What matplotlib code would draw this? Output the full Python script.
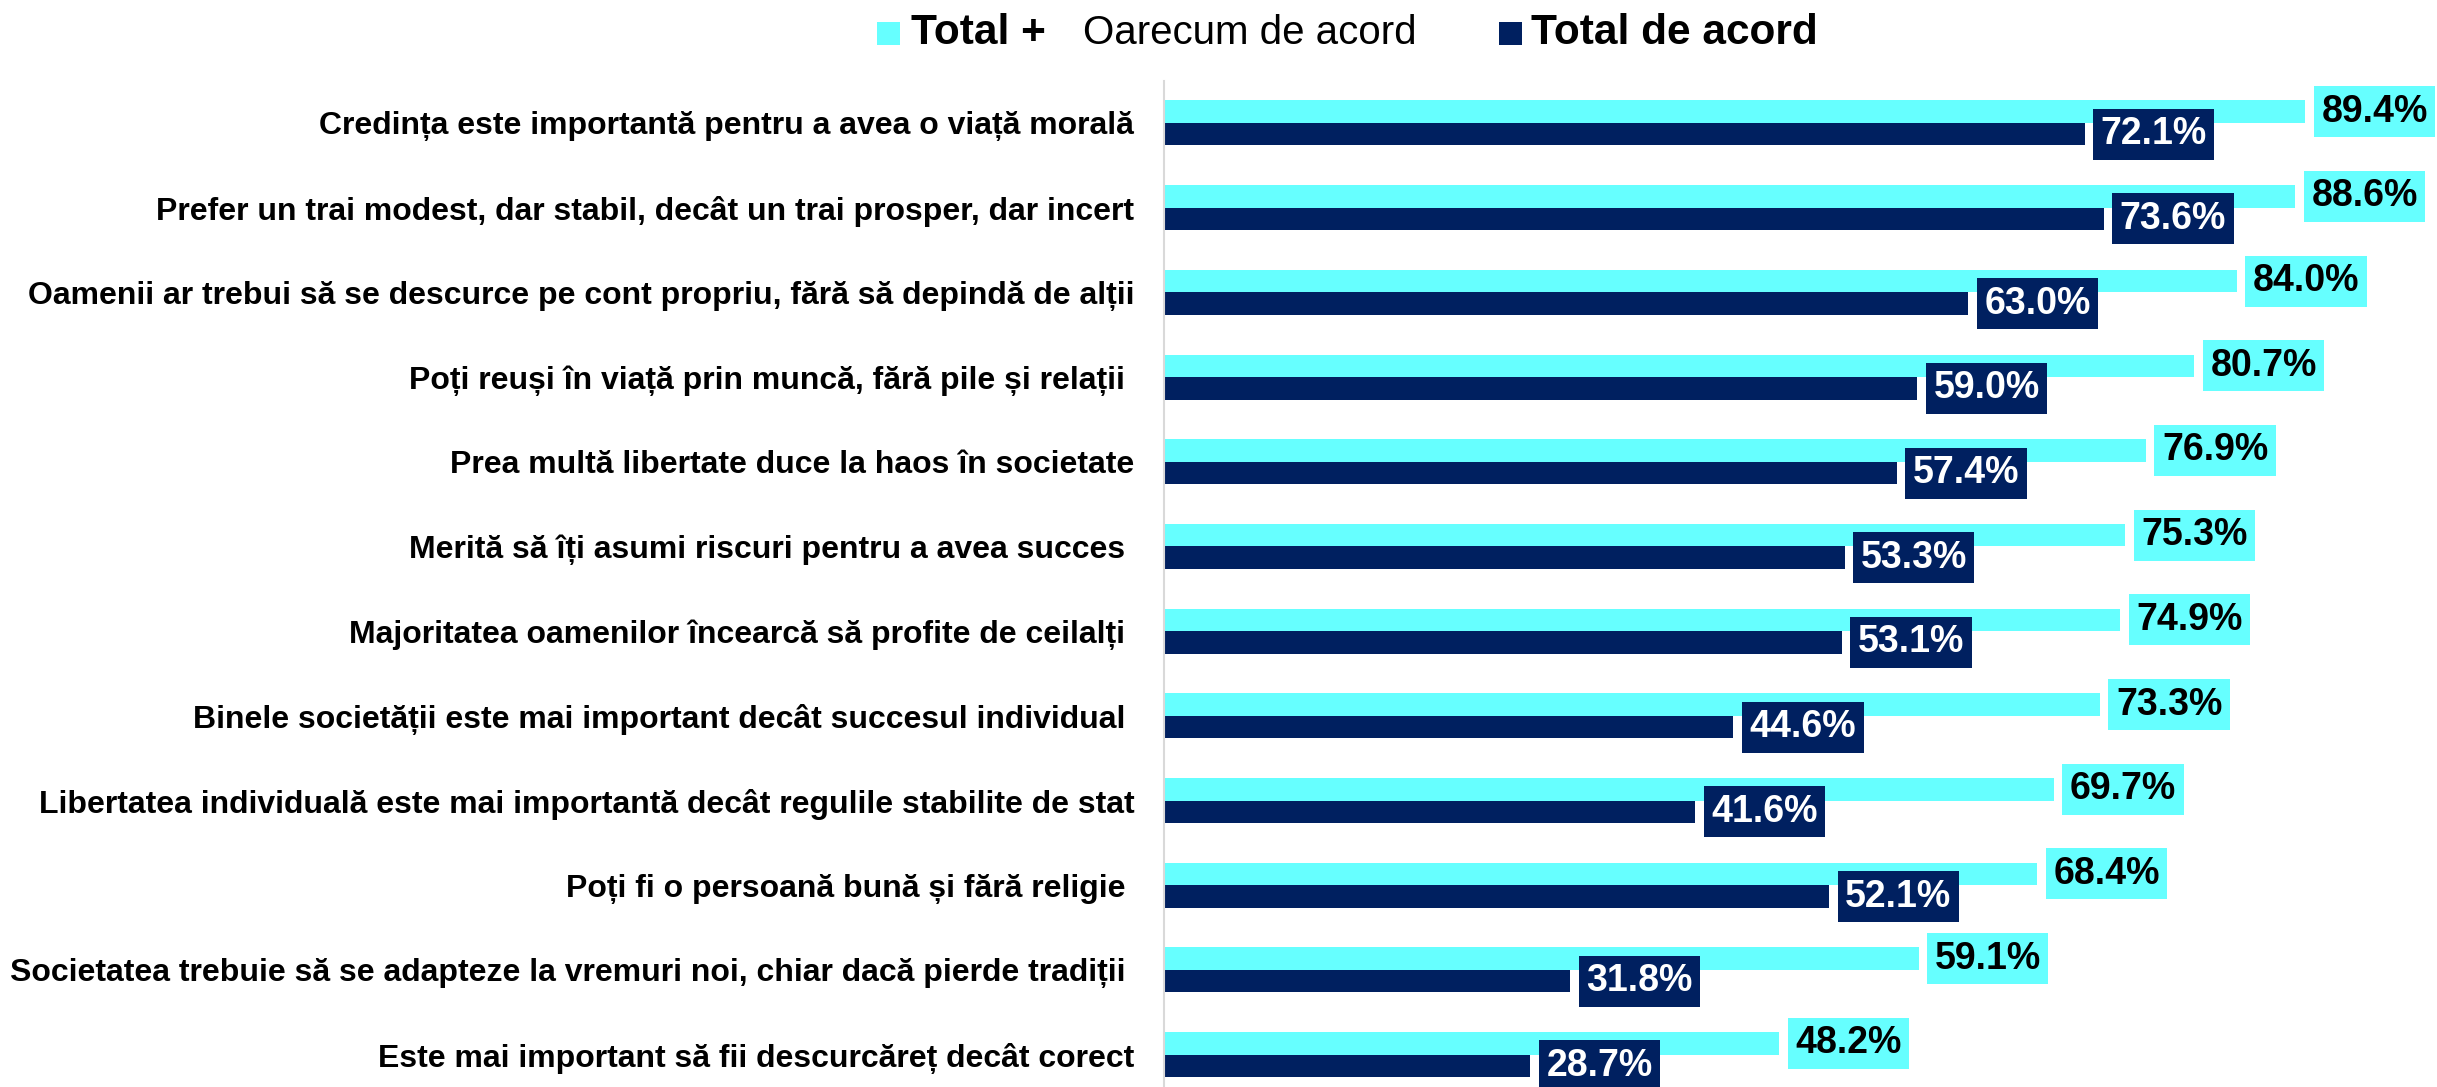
import matplotlib
matplotlib.use("Agg")
import matplotlib.pyplot as plt
from matplotlib import font_manager
from matplotlib.patches import Rectangle

categories = [
    "Credința este importantă pentru a avea o viață morală",
    "Prefer un trai modest, dar stabil, decât un trai prosper, dar incert",
    "Oamenii ar trebui să se descurce pe cont propriu, fără să depindă de alții",
    "Poți reuși în viață prin muncă, fără pile și relații ",
    "Prea multă libertate duce la haos în societate",
    "Merită să îți asumi riscuri pentru a avea succes ",
    "Majoritatea oamenilor încearcă să profite de ceilalți ",
    "Binele societății este mai important decât succesul individual ",
    "Libertatea individuală este mai importantă decât regulile stabilite de stat",
    "Poți fi o persoană bună și fără religie ",
    "Societatea trebuie să se adapteze la vremuri noi, chiar dacă pierde tradiții ",
    "Este mai important să fii descurcăreț decât corect",
]
total_plus = [89.4, 88.6, 84.0, 80.7, 76.9, 75.3, 74.9, 73.3, 69.7, 68.4, 59.1, 48.2]
total_acord = [72.1, 73.6, 63.0, 59.0, 57.4, 53.3, 53.1, 44.6, 41.6, 52.1, 31.8, 28.7]
legend_labels = ["Total + ", "Oarecum de acord", "Total de acord"]

CYAN = "#66FFFF"
NAVY = "#002060"

plt.rcParams['font.family'] = ['Liberation Sans', 'DejaVu Sans']
names = {f.name for f in font_manager.fontManager.ttflist}
narrow = 'Liberation Sans Narrow' if 'Liberation Sans Narrow' in names else 'Liberation Sans'

W, H = 2437, 1087
fig = plt.figure(figsize=(W / 100, H / 100), dpi=100)
ax = fig.add_axes([1164 / W, -10 / H, 1 - 1164 / W, 1016.4 / H])

n = len(categories)
ys = list(range(n))
bh = 0.2657
cy = [y - bh / 2 for y in ys]
dy = [y + bh / 2 for y in ys]
ax.barh(cy, total_plus, height=bh, color=CYAN, zorder=2)
ax.barh(dy, total_acord, height=bh, color=NAVY, zorder=2)

ax.set_xlim(0, 99.7)
ax.set_ylim(n - 0.5, -0.5)
ax.set_yticks(ys)
ax.set_yticklabels(categories, fontsize=23, fontweight='bold')
ax.tick_params(axis='y', length=0, pad=21.5)
ax.set_xticks([])
for s in ['top', 'right', 'bottom']:
    ax.spines[s].set_visible(False)
ax.spines['left'].set_color('#d9d9d9')
ax.spines['left'].set_linewidth(1.5)

for y, v in zip(cy, total_plus):
    ax.annotate(f"{v:.1f}%", xy=(v, y), xytext=(16, 0), textcoords='offset pixels',
                ha='left', va='center', fontsize=27, fontweight='bold', color='black',
                bbox=dict(boxstyle='square,pad=0.2', fc=CYAN, ec='none'), zorder=5,
                annotation_clip=False)
for y, v in zip(dy, total_acord):
    ax.annotate(f"{v:.1f}%", xy=(v, y), xytext=(16, 0), textcoords='offset pixels',
                ha='left', va='center', fontsize=27, fontweight='bold', color='white',
                bbox=dict(boxstyle='square,pad=0.2', fc=NAVY, ec='none'), zorder=5,
                annotation_clip=False)

# legend
ly = 1 - 33.5 / H
fig.patches.append(Rectangle((877 / W, ly - 11.5 / H), 23 / W, 23 / H, transform=fig.transFigure,
                             fc=CYAN, ec='none'))
fig.text(911 / W, ly, legend_labels[0], ha='left', va='center', fontsize=30.5, fontweight='bold')
fig.text(1083 / W, ly, legend_labels[1], ha='left', va='center', fontsize=29, family=[narrow, 'DejaVu Sans'])
fig.patches.append(Rectangle((1499 / W, ly - 11.5 / H), 23 / W, 23 / H, transform=fig.transFigure,
                             fc=NAVY, ec='none'))
fig.text(1531 / W, ly, legend_labels[2], ha='left', va='center', fontsize=30.5, fontweight='bold')

fig.savefig("out.png", dpi=100)
